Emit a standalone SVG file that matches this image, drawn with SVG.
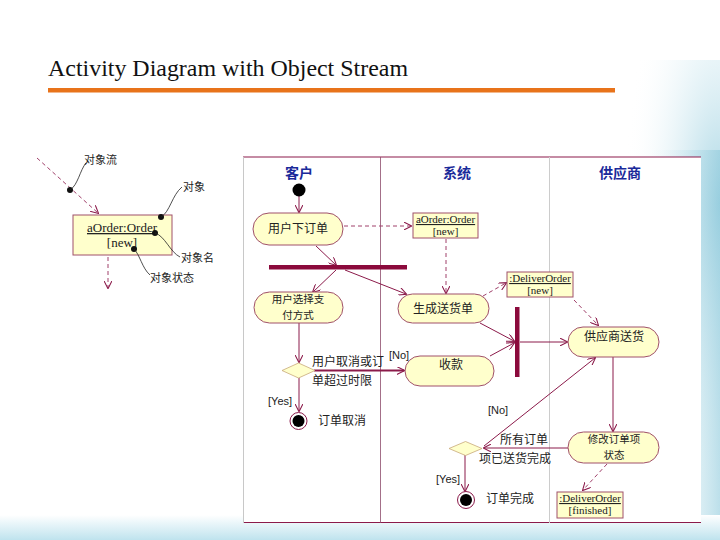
<svg xmlns="http://www.w3.org/2000/svg" width="720" height="540" viewBox="0 0 720 540">
<defs>
<style>
.act{fill:#FFFFCC;stroke:#A0506A;stroke-width:1}
.obj{fill:#FFFFCC;stroke:#A0506A;stroke-width:1}
.cn{font-family:"Noto Sans CJK SC","Noto Sans CJK TC",sans-serif;font-size:12px;fill:#222}
.cn2{font-family:"Noto Sans CJK SC","Noto Sans CJK TC",sans-serif;font-size:10.5px;fill:#222}
.cnL{font-family:"Noto Sans CJK SC","Noto Sans CJK TC",sans-serif;font-size:11px;fill:#222}
.hd{font-family:"Noto Sans CJK SC",sans-serif;font-size:14px;fill:#1A2A9A;font-weight:bold}
.ob{font-family:"Liberation Serif",serif;font-size:11px;fill:#222}
.obL{font-family:"Liberation Serif",serif;font-size:13px;fill:#222}
.gd{font-family:"Liberation Sans",sans-serif;font-size:11px;fill:#222}
.ttl{font-family:"Liberation Serif","Times New Roman",serif;font-size:23px;fill:#111}
.flow{fill:none;stroke:#8B1A4A;stroke-width:1;marker-end:url(#arr)}
.dash{fill:none;stroke:#A0406A;stroke-width:1;stroke-dasharray:4,3;marker-end:url(#arr)}
.bar{fill:#8B0A3C}
.wv{fill:none;stroke:#222;stroke-width:0.8}
</style>
<marker id="arr" viewBox="0 0 10 10" refX="9" refY="5" markerWidth="8" markerHeight="8" orient="auto" markerUnits="userSpaceOnUse">
<path d="M0,0 L10,5 L0,10" fill="none" stroke="#8B1A4A" stroke-width="1.3"/>
</marker>
<linearGradient id="rg" x1="0" y1="0" x2="1" y2="0">
<stop offset="0" stop-color="#E6F4F8" stop-opacity="0"/>
<stop offset="1" stop-color="#8FCADC"/>
</linearGradient>
<linearGradient id="bg" x1="0" y1="0" x2="0" y2="1">
<stop offset="0" stop-color="#FFFFFF"/>
<stop offset="1" stop-color="#BFE3EE"/>
</linearGradient>
<radialGradient id="tr" cx="1" cy="0.3" r="0.6">
<stop offset="0" stop-color="#8FCADC"/>
<stop offset="1" stop-color="#FFFFFF" stop-opacity="0"/>
</radialGradient>
</defs>
<rect width="720" height="540" fill="#FFFFFF"/>
<rect x="560" y="60" width="160" height="480" fill="url(#tr)" opacity="0.8"/>
<rect x="650" y="150" width="70" height="390" fill="url(#rg)" opacity="0.6"/>
<rect x="0" y="515" width="720" height="25" fill="url(#bg)"/>

<g id="title">
<text class="ttl" x="48" y="76" textLength="360" lengthAdjust="spacingAndGlyphs">Activity Diagram with Object Stream</text>
<rect x="48" y="88" width="567" height="4.5" fill="#E8731A"/>
</g>

<g id="legend">
<path class="dash" d="M37,158 L98,213"/>
<rect class="obj" x="73" y="215" width="99" height="40"/>
<text class="obL" x="122" y="232" text-anchor="middle" text-decoration="underline">aOrder:Order</text>
<text class="obL" x="122" y="247" text-anchor="middle">[new]</text>
<path class="dash" d="M108,257 L108,288"/>
<circle cx="70" cy="190" r="3" fill="#111"/>
<circle cx="161" cy="217" r="3" fill="#111"/>
<circle cx="155" cy="233" r="3" fill="#111"/>
<circle cx="134" cy="249" r="3" fill="#111"/>
<path class="wv" d="M70,190 C78,185 80,170 86,163"/>
<path class="wv" d="M161,217 C170,212 172,195 182,187"/>
<path class="wv" d="M155,233 C165,236 170,252 180,257"/>
<path class="wv" d="M134,249 C140,255 142,268 150,275"/>
<text class="cnL" x="84" y="164">对象流</text>
<text class="cnL" x="183" y="191">对象</text>
<text class="cnL" x="181" y="262">对象名</text>
<text class="cnL" x="150" y="282">对象状态</text>
</g>

<g id="frame">
<rect x="243" y="157" width="458" height="366" fill="#FFFFFF"/>
<line x1="243" y1="157" x2="701" y2="157" stroke="#8B1A4A" stroke-width="1.2"/>
<line x1="243" y1="522.5" x2="701" y2="522.5" stroke="#8B1A4A" stroke-width="1"/>
<line x1="243.5" y1="157" x2="243.5" y2="523" stroke="#C8C8C8" stroke-width="1"/>
<line x1="380.5" y1="157" x2="380.5" y2="523" stroke="#8B4A6A" stroke-width="0.8"/>
<line x1="549.5" y1="157" x2="549.5" y2="523" stroke="#CCCCCC" stroke-width="1"/>
<text class="hd" x="299" y="178" text-anchor="middle">客户</text>
<text class="hd" x="457" y="178" text-anchor="middle">系统</text>
<text class="hd" x="620" y="178" text-anchor="middle">供应商</text>
</g>

<g id="connectors">
<path class="flow" d="M299,196 L299,212"/>
<path class="dash" d="M344,226 L411,226"/>
<path class="flow" d="M316,246 L336,265"/>
<path class="flow" d="M336,270 L313,292"/>
<path class="flow" d="M345,270 L406,294"/>
<path class="dash" d="M446,239 L446,293"/>
<path class="dash" d="M483,296 L506,283"/>
<path class="dash" d="M574,300 L598,325"/>
<path class="flow" d="M480,323 L514,341"/>
<path class="flow" d="M490,356 L514,343"/>
<path class="flow" d="M520,342 L567,342"/>
<path class="flow" d="M613,357 L613,431"/>
<path class="dash" d="M607,464 L583,490"/>
<path class="flow" d="M568,448 L484,448"/>
<path class="flow" d="M484,446 L595,358"/>
<path class="flow" d="M465,455 L465,491"/>
<path class="flow" d="M299,323 L299,362"/>
<path d="M314,370.5 L404,370.5" fill="none" stroke="#8B1A4A" stroke-width="2" marker-end="url(#arr)"/>
<path class="flow" d="M299,378 L299,411"/>
<text class="gd" x="389" y="359">[No]</text>
<text class="gd" x="488" y="414">[No]</text>
<text class="gd" x="268" y="405">[Yes]</text>
<text class="gd" x="436" y="483">[Yes]</text>
</g>

<g id="start"><circle cx="299" cy="190" r="6.5" fill="#000"/></g>

<g id="placeOrder">
<rect class="act" x="253" y="213" width="90" height="32" rx="16"/>
<text class="cn" x="298" y="233" text-anchor="middle">用户下订单</text>
</g>

<g id="aOrderNew">
<rect class="obj" x="413" y="213" width="65" height="25"/>
<text class="ob" x="445.5" y="223" text-anchor="middle" text-decoration="underline">aOrder:Order</text>
<text class="ob" x="445.5" y="235" text-anchor="middle">[new]</text>
</g>

<g id="fork1"><rect class="bar" x="269" y="265" width="138" height="4.5"/></g>

<g id="choosePay">
<rect class="act" x="254" y="292" width="89" height="31" rx="15.5"/>
<text class="cn2" x="298" y="303" text-anchor="middle">用户选择支</text>
<text class="cn2" x="298" y="319" text-anchor="middle">付方式</text>
</g>

<g id="genDelivery">
<rect class="act" x="398" y="294" width="91" height="29" rx="14.5"/>
<text class="cn" x="443" y="313" text-anchor="middle">生成送货单</text>
</g>

<g id="deliverNew">
<rect class="obj" x="507" y="272" width="66" height="25"/>
<text class="ob" x="540" y="282" text-anchor="middle" text-decoration="underline">:DeliverOrder</text>
<text class="ob" x="540" y="294" text-anchor="middle">[new]</text>
</g>

<g id="fork2"><rect class="bar" x="515" y="307" width="4.5" height="70"/></g>

<g id="collect">
<rect class="act" x="405" y="356" width="89" height="30" rx="15"/>
<text class="cn" x="451" y="369" text-anchor="middle">收款</text>
</g>

<g id="supplierShip">
<rect class="act" x="568" y="327" width="91" height="30" rx="15"/>
<text class="cn" x="614" y="341" text-anchor="middle">供应商送货</text>
</g>

<g id="updateStatus">
<rect class="act" x="568" y="432" width="91" height="31" rx="15.5"/>
<text class="cn2" x="614" y="443" text-anchor="middle">修改订单项</text>
<text class="cn2" x="614" y="459" text-anchor="middle">状态</text>
</g>

<g id="deliverFinished">
<rect class="obj" x="557" y="492" width="66" height="26"/>
<text class="ob" x="590" y="502" text-anchor="middle" text-decoration="underline">:DeliverOrder</text>
<text class="ob" x="590" y="514" text-anchor="middle">[finished]</text>
</g>

<g id="decision1">
<polygon points="282,370.5 298.5,363 315,370.5 298.5,378" fill="#FFFFCC" stroke="#C8A878" stroke-width="0.8"/>
<text class="cn" x="312" y="366">用户取消或订</text>
<text class="cn" x="312" y="385">单超过时限</text>
</g>

<g id="decision2">
<polygon points="449,448.5 465.5,441.5 482,448.5 465.5,455.5" fill="#FFFFCC" stroke="#C8A878" stroke-width="0.8"/>
<text class="cn" x="500" y="444">所有订单</text>
<text class="cn" x="479" y="463">项已送货完成</text>
</g>

<g id="endCancel">
<circle cx="298.5" cy="421" r="8.5" fill="#FFFFFF" stroke="#8B1A4A" stroke-width="1"/>
<circle cx="298.5" cy="421" r="6" fill="#000"/>
<text class="cn" x="318" y="425">订单取消</text>
</g>

<g id="endComplete">
<circle cx="466" cy="500" r="8.5" fill="#FFFFFF" stroke="#8B1A4A" stroke-width="1"/>
<circle cx="466" cy="500" r="6" fill="#000"/>
<text class="cn" x="486" y="503">订单完成</text>
</g>
</svg>
